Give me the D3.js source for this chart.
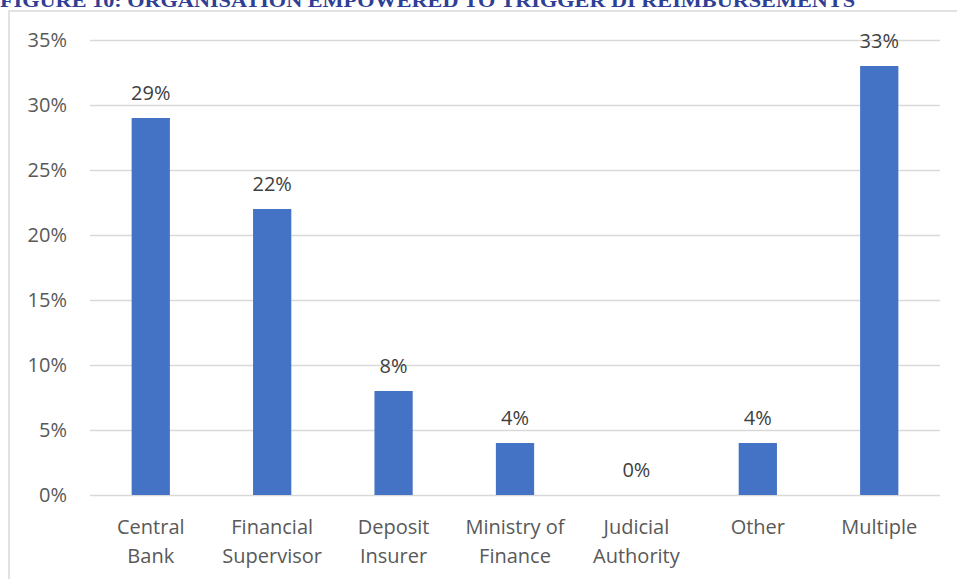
<!DOCTYPE html>
<html><head><meta charset="utf-8">
<script src="https://cdn.jsdelivr.net/npm/d3@7"></script>
<style>body{margin:0;background:#fff}svg{display:block}</style>
</head><body>
<script>
const title = "FIGURE 10: ORGANISATION EMPOWERED TO TRIGGER DI REIMBURSEMENTS";
const categories = [["Central","Bank"],["Financial","Supervisor"],["Deposit","Insurer"],["Ministry of","Finance"],["Judicial","Authority"],["Other"],["Multiple"]];
const values = [29, 22, 8, 4, 0, 4, 33];
const yTicks = [0, 5, 10, 15, 20, 25, 30, 35];

const W = 957, H = 579;
const svg = d3.select("body").append("svg").attr("width", W).attr("height", H);
const font = "'Open Sans', 'Noto Sans', sans-serif";

svg.append("text").attr("x", 0).attr("y", 7)
  .attr("font-family", "'Liberation Serif', serif").attr("font-weight", "bold")
  .attr("font-size", 19).attr("fill", "#2E3F95")
  .attr("textLength", 855).attr("lengthAdjust", "spacingAndGlyphs")
  .text(title);

svg.append("path").attr("d", "M9,579V11H957").attr("fill", "none").attr("stroke", "#d9d9d9").attr("stroke-width", 1.5);

const x = d3.scaleBand().domain(d3.range(categories.length)).range([90, 940]).paddingInner(0.685).paddingOuter(0.343);
const y = d3.scaleLinear().domain([0, 35]).range([495, 40]);

const yAxis = svg.append("g").attr("transform", "translate(90,0)")
  .call(d3.axisLeft(y).tickValues(yTicks).tickSize(-850).tickFormat(d => d + "%"));
yAxis.select(".domain").remove();
yAxis.selectAll(".tick line").attr("stroke", "#d9d9d9").attr("stroke-width", 1.5);
yAxis.selectAll(".tick text").attr("x", -23).attr("fill", "#595959").attr("font-size", 20).attr("font-family", font);

svg.selectAll("rect.bar").data(values).join("rect").attr("class", "bar")
  .attr("x", (d, i) => x(i)).attr("width", x.bandwidth())
  .attr("y", d => y(d)).attr("height", d => y(0) - y(d)).attr("fill", "#4472C4");

svg.selectAll("text.lbl").data(values).join("text").attr("class", "lbl")
  .attr("x", (d, i) => x(i) + x.bandwidth() / 2).attr("y", d => y(d) - 18)
  .attr("text-anchor", "middle").attr("fill", "#404040").attr("font-size", 20).attr("font-family", font)
  .text(d => d + "%");

const cat = svg.selectAll("text.cat").data(categories).join("text").attr("class", "cat")
  .attr("x", (d, i) => x(i) + x.bandwidth() / 2).attr("y", 534)
  .attr("text-anchor", "middle").attr("fill", "#595959").attr("font-size", 20).attr("font-family", font);
cat.selectAll("tspan").data(d => d).join("tspan")
  .attr("x", function() { return this.parentNode.getAttribute("x"); })
  .attr("dy", (d, i) => i === 0 ? 0 : 29).text(d => d);
</script>
</body></html>
